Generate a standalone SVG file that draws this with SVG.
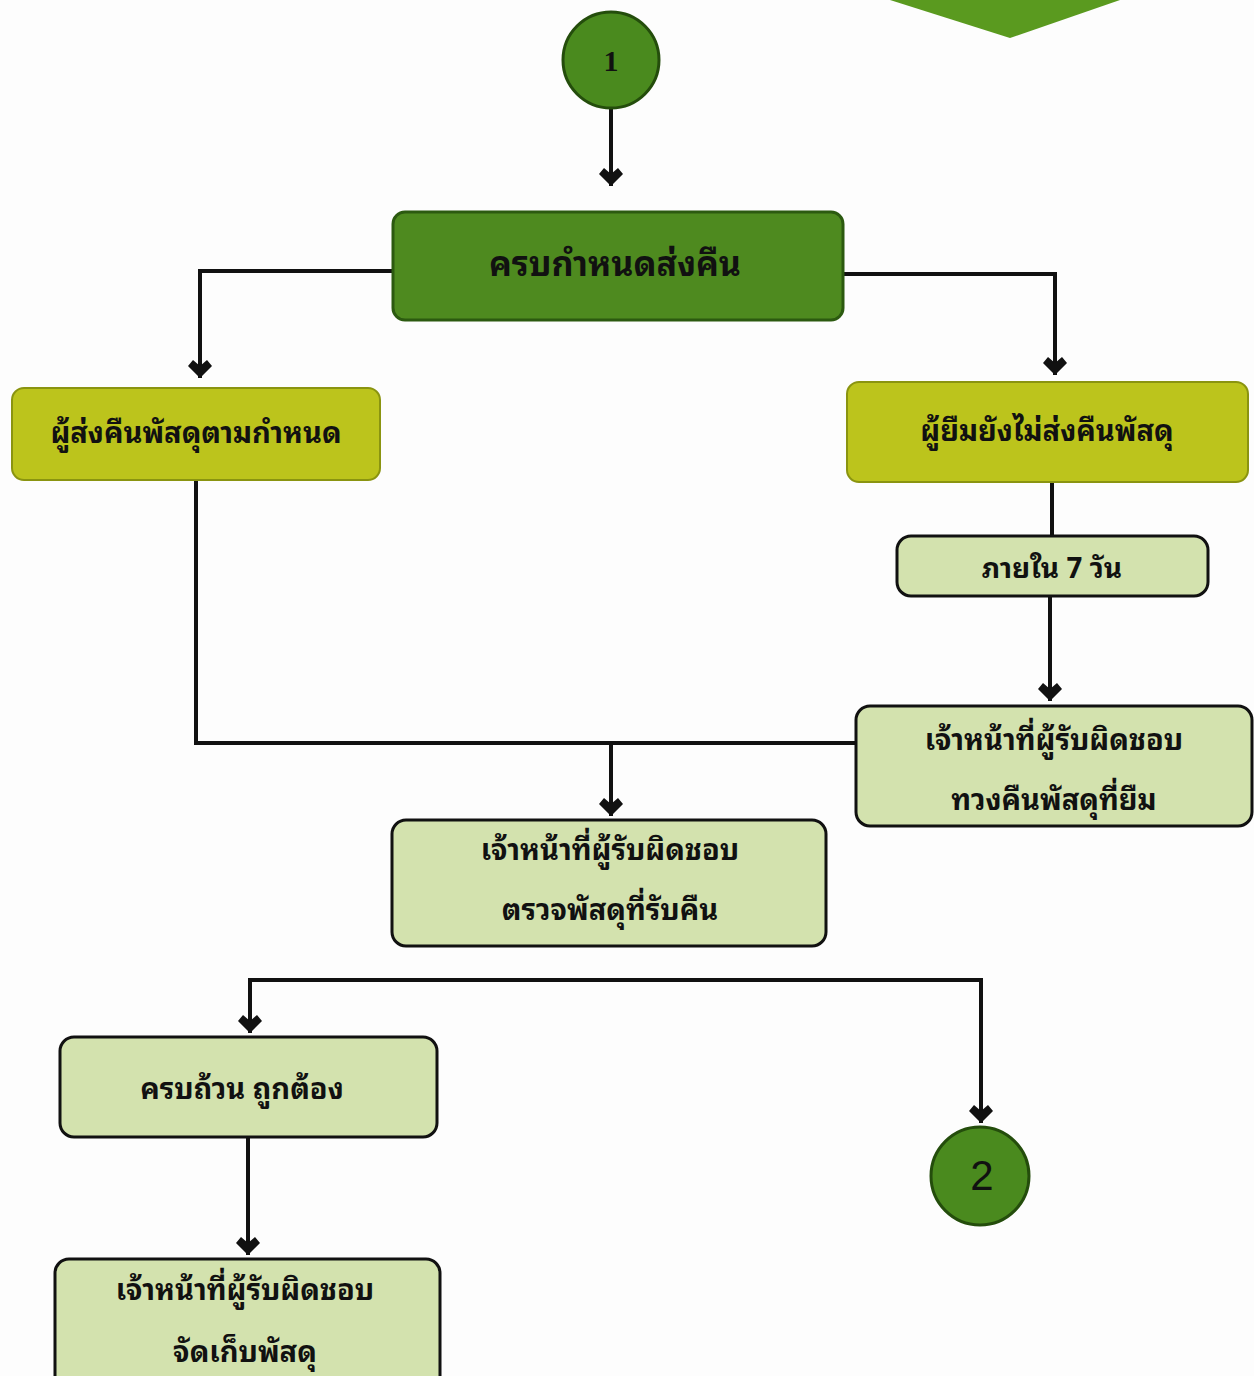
<svg xmlns="http://www.w3.org/2000/svg" width="1254" height="1376" viewBox="0 0 1254 1376">
<defs>
<marker id="ad" viewBox="0 0 24 20" refX="12" refY="19" markerWidth="24" markerHeight="20" markerUnits="userSpaceOnUse" orient="0">
<path d="M0,7 L5,1 L12,7 L19,1 L24,7 L12,19 Z" fill="#111"/>
</marker>
</defs>
<style>
.ln{fill:none;stroke:#111;stroke-width:4;}
.dk{fill:#4e8a1f;stroke:#2c5a10;stroke-width:3;}
.yl{fill:#bcc41c;stroke:#8a9410;stroke-width:2;}
.lt{fill:#d3e2ae;stroke:#111;stroke-width:3;}
.ci{fill:#4a8a1e;stroke:#244d0c;stroke-width:3;}
.t{font-family:"Noto Sans Thai Looped","Loma","Garuda","Tlwg Typist","Noto Sans Thai","Noto Sans","DejaVu Sans",sans-serif;font-weight:bold;fill:#111;text-anchor:middle;}
</style>
<rect width="1254" height="1376" fill="#fdfdfd"/>
<path d="M890,0 L1010,38 L1120,0 Z" fill="#5a9a1f"/>
<g id="connectors">
<path class="ln" d="M611,108 L611,186" marker-end="url(#ad)"/>
<path class="ln" d="M393,271 L200,271 L200,378" marker-end="url(#ad)"/>
<path class="ln" d="M843,274 L1055,274 L1055,375" marker-end="url(#ad)"/>
<path class="ln" d="M1052,482 L1052,536"/>
<path class="ln" d="M1050,596 L1050,701" marker-end="url(#ad)"/>
<path class="ln" d="M196,480 L196,743 L856,743"/>
<path class="ln" d="M611,743 L611,816" marker-end="url(#ad)"/>
<path class="ln" d="M250,980 L981,980"/>
<path class="ln" d="M250,978 L250,1033" marker-end="url(#ad)"/>
<path class="ln" d="M981,978 L981,1123" marker-end="url(#ad)"/>
<path class="ln" d="M248,1137 L248,1255" marker-end="url(#ad)"/>
</g>
<g id="n1"><ellipse class="ci" cx="611" cy="60" rx="48" ry="48"/><text x="611" y="71" font-family="Liberation Serif,serif" font-weight="bold" font-size="30" text-anchor="middle" fill="#111">1</text></g>
<g id="n2"><rect class="dk" x="393" y="212" width="450" height="108" rx="12"/><text class="t" x="615" y="276" font-size="34">ครบกำหนดส่งคืน</text></g>
<g id="n3"><rect class="yl" x="12" y="388" width="368" height="92" rx="12"/><text class="t" x="196" y="443" font-size="29">ผู้ส่งคืนพัสดุตามกำหนด</text></g>
<g id="n4"><rect class="yl" x="847" y="382" width="401" height="100" rx="12"/><text class="t" x="1047" y="441" font-size="29">ผู้ยืมยังไม่ส่งคืนพัสดุ</text></g>
<g id="n5"><rect class="lt" x="897" y="536" width="311" height="60" rx="14"/><text class="t" x="1052" y="578" font-size="28">ภายใน 7 วัน</text></g>
<g id="n6"><rect class="lt" x="856" y="706" width="396" height="120" rx="14"/><text class="t" x="1054" y="750" font-size="29">เจ้าหน้าที่ผู้รับผิดชอบ</text><text class="t" x="1054" y="810" font-size="29">ทวงคืนพัสดุที่ยืม</text></g>
<g id="n7"><rect class="lt" x="392" y="820" width="434" height="126" rx="14"/><text class="t" x="610" y="860" font-size="29">เจ้าหน้าที่ผู้รับผิดชอบ</text><text class="t" x="610" y="920" font-size="29">ตรวจพัสดุที่รับคืน</text></g>
<g id="n8"><rect class="lt" x="60" y="1037" width="377" height="100" rx="14"/><text class="t" x="242" y="1099" font-size="29">ครบถ้วน ถูกต้อง</text></g>
<g id="n9"><circle class="ci" cx="980" cy="1176" r="49"/><text x="982" y="1190" font-family="Liberation Sans,Arial,sans-serif" font-size="42" text-anchor="middle" fill="#111">2</text></g>
<g id="n10"><rect class="lt" x="55" y="1259" width="385" height="140" rx="14"/><text class="t" x="245" y="1300" font-size="29">เจ้าหน้าที่ผู้รับผิดชอบ</text><text class="t" x="245" y="1362" font-size="29">จัดเก็บพัสดุ</text></g>
</svg>
